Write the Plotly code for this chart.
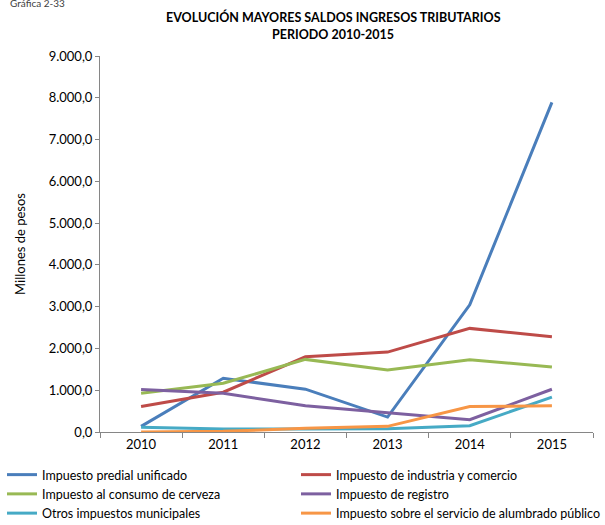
import plotly.graph_objects as go

years = ["2010", "2011", "2012", "2013", "2014", "2015"]
series_names = [
    "Impuesto predial unificado",
    "Impuesto de industria y comercio",
    "Impuesto al consumo de cerveza",
    "Impuesto de registro",
    "Otros impuestos municipales",
    "Impuesto sobre el servicio de alumbrado público",
]
predial = [135, 1285, 1025, 357, 3045, 7890]
industria = [611, 952, 1800, 1913, 2480, 2278]
cerveza = [929, 1167, 1738, 1484, 1730, 1556]
registro = [1016, 929, 627, 460, 294, 1024]
otros = [111, 71, 71, 80, 150, 833]
alumbrado = [0, 16, 87, 135, 611, 627]
series_values = [predial, industria, cerveza, registro, otros, alumbrado]
colors = ["#4A7EBB", "#BE4B48", "#98B954", "#7D60A0", "#46AAC5", "#F79646"]
legend_ids = ["legend", "legend2", "legend", "legend2", "legend", "legend2"]
y_ticks = [0, 1000, 2000, 3000, 4000, 5000, 6000, 7000, 8000, 9000]
title_lines = ["EVOLUCIÓN MAYORES SALDOS INGRESOS TRIBUTARIOS", "PERIODO 2010-2015"]

FONT = "Lato"
PW, PH = 493, 376

fig = go.Figure()
for name, vals, col, lg in zip(series_names, series_values, colors, legend_ids):
    fig.add_trace(go.Scatter(x=years, y=vals, name=name, mode="lines", legend=lg,
                             line=dict(color=col, width=3)))

leg_common = dict(orientation="v", xref="paper", yref="paper", xanchor="left",
                  y=-(460 - 432) / PH, yanchor="top", itemwidth=30,
                  font=dict(size=12.5), tracegroupgap=0, bgcolor="rgba(0,0,0,0)",
                  traceorder="normal")

fig.update_layout(
    width=605, height=525,
    paper_bgcolor="white", plot_bgcolor="white",
    separators=",.",
    font=dict(family=FONT, size=13, color="black"),
    margin=dict(l=100, r=12, t=56, b=93, autoexpand=False),
    xaxis=dict(type="category", range=[-0.5, 5.5], showgrid=False, showline=True,
               linecolor="#868686", linewidth=1, ticks="outside", tickson="boundaries",
               ticklen=5, tickcolor="#868686", tickfont=dict(size=13)),
    yaxis=dict(range=[0, 9000], tickvals=y_ticks, tickformat=",.1f", showgrid=False,
               showline=True, linecolor="#868686", linewidth=1, ticks="outside",
               ticklen=4, tickcolor="#868686", zeroline=False, tickfont=dict(size=13),
               title=dict(text="Millones de pesos", font=dict(size=13), standoff=20)),
    legend=dict(x=-98 / PW, **leg_common),
    legend2=dict(x=(296 - 100) / PW, **leg_common),
    showlegend=True,
)
for txt, ypx in zip(title_lines, [17, 35]):
    fig.add_annotation(text="<b>" + txt + "</b>", xref="paper", yref="paper",
                       x=(333 - 100) / PW, y=1 + (56 - ypx) / PH,
                       xanchor="center", yanchor="middle", showarrow=False,
                       font=dict(family=FONT, size=12.5, color="black"))
fig.add_annotation(text="Gráfica 2-33", xref="paper", yref="paper",
                   x=-92 / PW, y=1 + 53 / PH, xanchor="left", yanchor="middle",
                   showarrow=False, font=dict(size=10, color="#404040"))

fig.write_html("out.html", config={"displayModeBar": False},
               post_script="document.body.style.margin='0px';")
